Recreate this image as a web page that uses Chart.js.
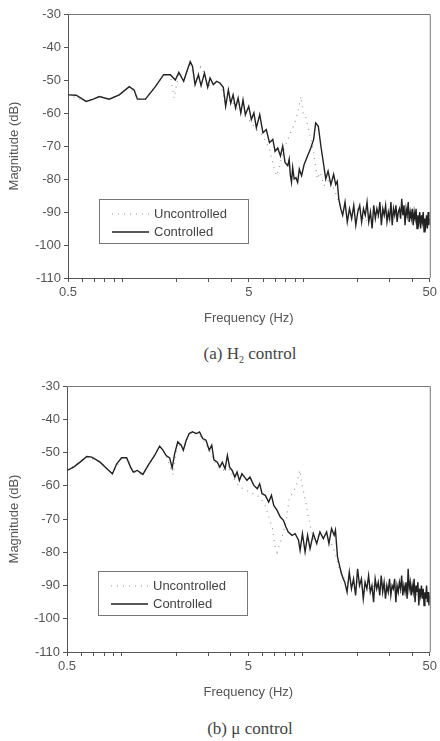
<!DOCTYPE html>
<html>
<head>
<meta charset="utf-8">
<script src="https://cdn.jsdelivr.net/npm/chart.js@4.4.1/dist/chart.umd.min.js"></script>
<style>
  body { margin: 0; background: #fff; width: 440px; height: 741px; position: relative; overflow: hidden; }
  canvas { position: absolute; left: 0; }
  .caption { position: absolute; left: 0; width: 500px; text-align: center; font-family: "Liberation Serif", "DejaVu Serif", serif; font-size: 17px; color: #444; }
</style>
</head>
<body>
<canvas id="chartA" width="440" height="330" style="top:0"></canvas>
<div class="caption" style="top:344px">(a) H<sub style="font-size:10px">2</sub> control</div>
<canvas id="chartB" width="440" height="334" style="top:370px"></canvas>
<div class="caption" style="top:719px">(b) μ control</div>
<script>
// Frequency response, top chart (H2 control)
const topCtrlFreq = [
  0.5, 0.555, 0.63, 0.69, 0.745, 0.845, 0.96, 1.09, 1.16, 1.21,
  1.34, 1.52, 1.69, 1.84, 1.96, 2.05, 2.18, 2.27, 2.37, 2.44,
  2.52, 2.63, 2.72, 2.84, 2.96, 3.05, 3.18, 3.32, 3.46, 3.61,
  3.72, 3.85, 3.97, 4.09, 4.22, 4.36, 4.51, 4.64, 4.78, 4.99,
  5.16, 5.33, 5.5, 5.74, 5.98, 6.24, 6.5, 6.78, 6.98, 7.22,
  7.47, 7.69, 7.92, 8.2, 8.35, 8.48, 8.6, 8.73, 8.9, 9.1,
  9.3, 9.5, 9.78, 10.1, 10.55, 11.0, 11.4, 11.7, 12.1, 12.5,
  12.9, 13.3, 13.7, 14.2, 14.7, 15.1, 15.4, 15.7, 16.1, 16.5,
  17, 17.5, 18, 18.5, 19, 19.5, 20, 20.5, 21, 21.5,
  22, 22.5, 23, 23.5, 24, 24.5, 25, 25.5, 26, 26.5,
  27, 27.5, 28, 28.5, 29, 29.5, 30, 30.5, 31, 31.5,
  32, 32.5, 33, 33.5, 34, 34.5, 35, 35.5, 36, 36.5,
  37, 37.5, 38, 38.5, 39, 39.5, 40, 40.5, 41, 41.5,
  42, 42.5, 43, 43.5, 44, 44.5, 45, 45.5, 46, 46.5,
  47, 47.5, 48, 48.5, 49, 49.5, 50
];
const topCtrlDb = [
  -54.5, -54.6, -56.5, -55.8, -55, -55.8, -54.5, -52, -53, -55.8,
  -55.8, -52, -48.4, -48.4, -50, -47.7, -50.4, -47.4, -44.4, -45.9,
  -51.4, -48.4, -51.7, -47.9, -52.2, -49.4, -51.4, -50.4, -50.9, -52.2,
  -58, -53, -57, -54.5, -58.5, -55.5, -60, -56, -60.5, -58,
  -62, -60, -64.5, -60.5, -66, -65, -69, -68, -71.6, -70.6,
  -73, -70, -75, -76, -74, -79, -81, -76.5, -80, -79.6,
  -81, -77, -79, -75.6, -73, -70.6, -68, -63, -64, -70,
  -75, -80, -77.6, -81.7, -78.6, -81.7, -80.7, -86, -89, -91,
  -87, -93, -89, -92, -88, -94, -90, -88, -93, -89,
  -91, -87, -93, -90, -95, -88, -92, -89, -91, -87,
  -94, -89, -91, -88, -93, -90, -92, -87, -94, -89,
  -91, -88, -93, -90, -89, -92, -86, -91, -88, -94,
  -89, -91, -87, -93, -90, -92, -89, -94, -90, -92,
  -89, -95, -91, -93, -90, -95, -91, -93, -90, -96,
  -92, -94, -91, -95, -90, -94, -92
];
const topUncFreq = [
  0.5, 0.63, 0.745, 0.845, 0.96, 1.09, 1.21, 1.34, 1.52, 1.69,
  1.84, 1.93, 2.05, 2.18, 2.37, 2.52, 2.7, 2.84, 2.96, 3.18,
  3.46, 3.72, 3.97, 4.22, 4.51, 4.78, 5.16, 5.5, 5.98, 6.5,
  6.9, 7.1, 7.4, 7.7, 8.0, 8.5, 8.9, 9.3, 9.7, 10.0,
  10.3, 10.8, 11.3, 11.95, 12.4, 13, 14, 15, 16, 18,
  20, 22, 24, 26, 28, 30, 32, 34, 36, 38,
  40, 42, 44, 46, 48, 50
];
const topUncDb = [
  -54.5, -56.5, -55, -55.8, -54.5, -52, -55.8, -55.8, -52, -48.4,
  -48.4, -55.5, -47.7, -50.4, -44.6, -51, -46, -48, -52, -51,
  -51, -57, -56, -58, -60, -61, -63, -65, -67, -71,
  -77, -79, -76, -72, -69.6, -66, -63.5, -60, -55, -60.5,
  -61, -66, -70.6, -80, -78, -82, -80, -84, -88, -91,
  -89, -93, -90, -92, -89, -93, -90, -92, -89, -93,
  -91, -94, -91, -95, -92, -93
];

// Frequency response, bottom chart (mu control)
const botCtrlFreq = [
  0.5, 0.544, 0.59, 0.643, 0.685, 0.761, 0.83, 0.89, 0.94, 1.0,
  1.066, 1.12, 1.16, 1.22, 1.31, 1.4, 1.52, 1.62, 1.69, 1.76,
  1.84, 1.9, 1.96, 2.04, 2.13, 2.19, 2.27, 2.36, 2.46, 2.59,
  2.69, 2.8, 2.92, 3.04, 3.14, 3.23, 3.37, 3.48, 3.59, 3.72,
  3.83, 3.94, 4.07, 4.21, 4.33, 4.46, 4.61, 4.76, 4.91, 5.1,
  5.36, 5.6, 5.77, 5.95, 6.2, 6.47, 6.7, 6.9, 7.2, 7.5,
  7.8, 8.05, 8.3, 8.7, 9.05, 9.45, 9.64, 9.93, 10.27, 10.6,
  10.94, 11.4, 11.9, 12.4, 12.94, 13.5, 13.9, 14.37, 14.86, 15.1,
  15.5, 15.96, 16.3, 16.65, 17, 17.5, 18, 18.5, 19, 19.5,
  20, 20.5, 21, 21.5, 22, 22.5, 23, 23.5, 24, 24.5,
  25, 25.5, 26, 26.5, 27, 27.5, 28, 28.5, 29, 29.5,
  30, 30.5, 31, 31.5, 32, 32.5, 33, 33.5, 34, 34.5,
  35, 35.5, 36, 36.5, 37, 37.5, 38, 38.5, 39, 39.5,
  40, 40.5, 41, 41.5, 42, 42.5, 43, 43.5, 44, 44.5,
  45, 45.5, 46, 46.5, 47, 47.5, 48, 48.5, 49, 49.5,
  50
];
const botCtrlDb = [
  -55.4, -54.4, -52.9, -51.2, -51.4, -52.9, -54.9, -56.4, -53.4, -51.6,
  -51.6, -54.4, -55.9, -55.4, -56.6, -53.9, -50.9, -48.1, -49.3, -50.9,
  -51.6, -54.6, -50.4, -46.8, -47.8, -49.3, -46.3, -44.3, -43.8, -44.3,
  -43.8, -45.8, -46.3, -49.3, -47.8, -52.2, -52.9, -54.4, -52.9, -54.9,
  -50.9, -54.4, -55.4, -57.4, -55.9, -58.4, -56.4, -57.4, -58.4, -57.4,
  -59.9, -60.9, -59.4, -62.4, -62.9, -64.9, -62.9, -65.9, -67.4, -69.4,
  -70.4, -72.4, -73.9, -74.9, -74.4, -76.4, -79.4, -74.4, -79.9, -74.9,
  -78.9, -74.4, -77.4, -73.9, -75.9, -73.9, -77.4, -72.9, -74.9, -73.4,
  -81.4, -84.4, -86.4, -87.9, -89, -92, -86, -91, -88, -93,
  -85, -90, -88, -94, -89, -91, -87, -92, -90, -95,
  -88, -91, -89, -93, -87, -92, -89, -94, -90, -92,
  -88, -93, -90, -91, -88, -95, -90, -92, -89, -91,
  -87, -93, -90, -92, -89, -94, -85, -91, -89, -93,
  -90, -92, -88, -95, -90, -92, -89, -96, -91, -93,
  -90, -94, -91, -96, -92, -94, -90, -95, -92, -96,
  -93
];
const botUncFreq = [
  0.5, 0.643, 0.761, 0.89, 1.0, 1.066, 1.16, 1.31, 1.52, 1.62,
  1.76, 1.92, 2.04, 2.19, 2.36, 2.59, 2.8, 3.04, 3.23, 3.5,
  3.72, 3.94, 4.21, 4.5, 4.76, 5.1, 5.5, 5.8, 6.2, 6.5,
  6.8, 7.0, 7.2, 7.5, 7.8, 8.1, 8.4, 8.8, 9.2, 9.6,
  9.9, 10.2, 10.6, 11.0, 11.5, 12, 13, 14, 15, 16,
  18, 20, 22, 24, 26, 28, 30, 32, 34, 36,
  38, 40, 42, 44, 46, 48, 50
];
const botUncDb = [
  -55.4, -51.2, -52.9, -56.4, -51.6, -51.6, -55.9, -56.6, -50.9, -48.1,
  -50.9, -56.6, -47, -49.3, -44.3, -44.3, -45.8, -49.3, -52.5, -55,
  -55.5, -55, -58.5, -60.5, -61, -62, -62.8, -63.5, -66, -69.5,
  -73, -78, -80, -77, -74, -70, -64, -62, -60, -55.3,
  -60, -63, -68, -72.5, -76, -75, -76, -76, -80, -86,
  -90, -89, -92, -90, -91, -89, -92, -90, -93, -90,
  -91, -89, -93, -91, -94, -92, -93
];

// Axis ticks
const xTickValues = [0.5, 0.6, 0.7, 0.8, 0.9, 1, 2, 3, 4, 5, 6, 7, 8, 9, 10, 20, 30, 40, 50];
const xTickLabels = [0.5, 5, 50];
const yTickValues = [-110, -100, -90, -80, -70, -60, -50, -40, -30];

const axisColor = '#555';
const textColor = '#555';
const fontFamily = '"Liberation Sans", Arial, sans-serif';

function toPoints(freq, db) {
    return freq.map((f, i) => ({ x: f, y: db[i] }));
}

// Frame on top/right, plus the boxed legend
const framePlugin = {
    id: 'frame',
    afterDatasetsDraw(chart) {
        const { ctx, chartArea: a } = chart;
        ctx.save();
        ctx.strokeStyle = '#777';
        ctx.lineWidth = 1;
        ctx.beginPath();
        ctx.moveTo(a.left, a.top + 0.5);
        ctx.lineTo(a.right + 0.5, a.top + 0.5);
        ctx.lineTo(a.right + 0.5, a.bottom);
        ctx.stroke();

        // legend
        const bx = a.left + 31, by = a.top + 185, bw = 149, bh = 44;
        ctx.fillStyle = '#fff';
        ctx.fillRect(bx, by, bw, bh);
        ctx.strokeStyle = '#777';
        ctx.strokeRect(bx + 0.5, by + 0.5, bw, bh);
        ctx.font = '13px ' + fontFamily;
        ctx.textBaseline = 'middle';
        const order = [1, 0];
        order.forEach((di, row) => {
            const ds = chart.data.datasets[di];
            const ly = by + 15 + row * 18;
            ctx.strokeStyle = ds.borderColor;
            ctx.lineWidth = ds.borderWidth;
            ctx.setLineDash(ds.borderDash || []);
            ctx.beginPath();
            ctx.moveTo(bx + 13, ly);
            ctx.lineTo(bx + 50, ly);
            ctx.stroke();
            ctx.setLineDash([]);
            ctx.fillStyle = '#444';
            ctx.fillText(ds.label, bx + 55, ly);
        });
        ctx.restore();
    }
};

function makeChart(id, ctrlFreq, ctrlDb, uncFreq, uncDb, yWidth, rightPad, topPad) {
    const ctx = document.getElementById(id).getContext('2d');
    return new Chart(ctx, {
        type: 'line',
        data: {
            datasets: [{
                label: 'Controlled',
                data: toPoints(ctrlFreq, ctrlDb),
                borderColor: '#222',
                borderWidth: 1.4,
                pointRadius: 0,
                tension: 0,
                order: 1
            }, {
                label: 'Uncontrolled',
                data: toPoints(uncFreq, uncDb),
                borderColor: '#999',
                borderWidth: 1.2,
                borderDash: [1, 5],
                pointRadius: 0,
                tension: 0,
                order: 2
            }]
        },
        options: {
            responsive: false,
            animation: false,
            layout: { padding: { left: 0, right: rightPad, top: topPad, bottom: 0 } },
            plugins: { legend: { display: false }, tooltip: { enabled: false } },
            scales: {
                x: {
                    type: 'logarithmic',
                    min: 0.5,
                    max: 50,
                    afterBuildTicks: (s) => { s.ticks = xTickValues.map(v => ({ value: v })); },
                    afterFit: (s) => { s.height = 52; },
                    border: { color: axisColor, width: 1 },
                    grid: { drawOnChartArea: false, drawTicks: true, tickLength: 4, color: axisColor },
                    ticks: {
                        autoSkip: false,
                        maxRotation: 0,
                        padding: 3,
                        color: textColor,
                        font: { family: fontFamily, size: 13 },
                        callback: (v) => xTickLabels.includes(v) ? String(v) : ''
                    },
                    title: {
                        display: true,
                        text: 'Frequency (Hz)',
                        color: textColor,
                        font: { family: fontFamily, size: 13 },
                        padding: { top: 0, bottom: 4 }
                    }
                },
                y: {
                    min: -110,
                    max: -30,
                    afterBuildTicks: (s) => { s.ticks = yTickValues.map(v => ({ value: v })); },
                    afterFit: (s) => { s.width = yWidth; },
                    border: { color: axisColor, width: 1 },
                    grid: { drawOnChartArea: false, drawTicks: true, tickLength: 4, color: axisColor },
                    ticks: {
                        padding: 3,
                        color: textColor,
                        font: { family: fontFamily, size: 13 }
                    },
                    title: {
                        display: true,
                        text: 'Magnitude (dB)',
                        color: textColor,
                        font: { family: fontFamily, size: 13 },
                        padding: { top: 7, bottom: 0 }
                    }
                }
            }
        },
        plugins: [framePlugin]
    });
}

makeChart('chartA', topCtrlFreq, topCtrlDb, topUncFreq, topUncDb, 68, 7, 14);
makeChart('chartB', botCtrlFreq, botCtrlDb, botUncFreq, botUncDb, 67, 8, 16);
</script>
</body>
</html>
